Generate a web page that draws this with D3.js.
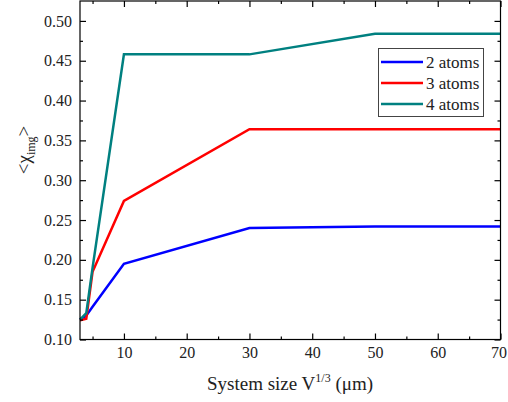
<!DOCTYPE html>
<html><head><meta charset="utf-8">
<script src="https://cdn.jsdelivr.net/npm/d3@7"></script>
<style>body{margin:0;background:#fff}svg{display:block}text{font-family:"Liberation Serif","Times New Roman",serif}</style>
</head><body>
<script>
const xs = [3, 4, 5, 10, 30, 50, 70];
const atoms2 = [0.125, 0.130, 0.141, 0.195, 0.240, 0.242, 0.242];
const atoms3 = [0.124, 0.126, 0.185, 0.274, 0.364, 0.364, 0.364];
const atoms4 = [0.125, 0.133, 0.190, 0.458, 0.458, 0.484, 0.484];
const seriesNames = ["2 atoms", "3 atoms", "4 atoms"];
const colors = ["#0000ff", "#ff0000", "#008080"];
const xMajor = [10, 20, 30, 40, 50, 60, 70];
const xMinor = [5, 15, 25, 35, 45, 55, 65];
const yMajor = [0.10, 0.15, 0.20, 0.25, 0.30, 0.35, 0.40, 0.45, 0.50];
const yMinor = [0.125, 0.175, 0.225, 0.275, 0.325, 0.375, 0.425, 0.475];

const W = 508, H = 402;
const L = 80, R = 500.5, T = 1, B = 339.5;
const svg = d3.select("body").append("svg").attr("width", W).attr("height", H);
const x = d3.scaleLinear().domain([3, 70]).range([L, R]);
const y = d3.scaleLinear().domain([0.10, 0.525]).range([B, T]);
const font = '"Liberation Serif","Times New Roman",serif';

// data lines
const series = [atoms2, atoms3, atoms4];
const line = d3.line().x((d, i) => x(xs[i])).y(d => y(d));
series.forEach((s, k) => {
  svg.append("path").datum(s).attr("d", line).attr("fill", "none")
    .attr("stroke", colors[k]).attr("stroke-width", 2.5).attr("stroke-linejoin", "miter");
});

// axes (ticks point inward)
const gB = svg.append("g").attr("transform", `translate(0,${B})`)
  .call(d3.axisTop(x).tickValues(xMajor).tickSize(6).tickFormat(""));
const gBm = svg.append("g").attr("transform", `translate(0,${B})`)
  .call(d3.axisTop(x).tickValues(xMinor).tickSize(3).tickFormat(""));
const gBl = svg.append("g").attr("transform", `translate(0,${B})`)
  .call(d3.axisBottom(x).tickValues(xMajor).tickSize(0).tickPadding(7).tickFormat(d3.format("d")));
const gT = svg.append("g").attr("transform", `translate(0,${T})`)
  .call(d3.axisBottom(x).tickValues(xMajor).tickSize(6).tickFormat(""));
const gTm = svg.append("g").attr("transform", `translate(0,${T})`)
  .call(d3.axisBottom(x).tickValues(xMinor).tickSize(3).tickFormat(""));
const gL = svg.append("g").attr("transform", `translate(${L},0)`)
  .call(d3.axisRight(y).tickValues(yMajor).tickSize(6).tickFormat(""));
const gLm = svg.append("g").attr("transform", `translate(${L},0)`)
  .call(d3.axisRight(y).tickValues(yMinor).tickSize(3).tickFormat(""));
const gLl = svg.append("g").attr("transform", `translate(${L},0)`)
  .call(d3.axisLeft(y).tickValues(yMajor).tickSize(0).tickPadding(8).tickFormat(d3.format(".2f")));
const gR = svg.append("g").attr("transform", `translate(${R},0)`)
  .call(d3.axisLeft(y).tickValues(yMajor).tickSize(6).tickFormat(""));
const gRm = svg.append("g").attr("transform", `translate(${R},0)`)
  .call(d3.axisLeft(y).tickValues(yMinor).tickSize(3).tickFormat(""));
[gB, gBm, gBl, gT, gTm, gL, gLm, gLl, gR, gRm].forEach(g => {
  g.attr("font-family", null).attr("font-size", null);
  g.select(".domain").remove();
  g.selectAll("line").attr("stroke", "#000").attr("stroke-width", 1.2);
  g.selectAll("text").style("font-family", font).style("font-size", "16px").attr("fill", "#222");
});
gBl.selectAll("text").filter(d => d === 70).attr("dx", -2);
svg.append("rect").attr("x", L).attr("y", T).attr("width", R - L).attr("height", B - T)
  .attr("fill", "none").attr("stroke", "#000").attr("stroke-width", 1.2);

// legend
const lg = svg.append("g");
lg.append("rect").attr("x", 378.5).attr("y", 48.5).attr("width", 105).attr("height", 68)
  .attr("fill", "#fff").attr("stroke", "#444").attr("stroke-width", 1);
seriesNames.forEach((n, k) => {
  const yy = 62 + k * 21;
  lg.append("line").attr("x1", 381).attr("x2", 423).attr("y1", yy).attr("y2", yy)
    .attr("stroke", colors[k]).attr("stroke-width", 2.5);
  lg.append("text").attr("x", 426).attr("y", yy + 5.5).text(n)
    .style("font-family", font).style("font-size", "17px").attr("fill", "#222");
});

// axis titles
const xt = svg.append("text").attr("x", 290).attr("y", 390).attr("text-anchor", "middle")
  .style("font-family", font).style("font-size", "19px").attr("fill", "#222");
xt.append("tspan").text("System size V");
xt.append("tspan").text("1/3").style("font-size", "12px").attr("dy", -8);
xt.append("tspan").text(" (\u03bcm)").attr("dy", 8);

const yt = svg.append("text").attr("transform", "translate(30,150) rotate(-90)")
  .attr("text-anchor", "middle").style("font-family", font).style("font-size", "19px").attr("fill", "#222");
yt.append("tspan").text("<\u03c7");
yt.append("tspan").text("img").style("font-size", "12px").attr("dy", 5);
yt.append("tspan").text(">").attr("dy", -5);
</script>
</body></html>
